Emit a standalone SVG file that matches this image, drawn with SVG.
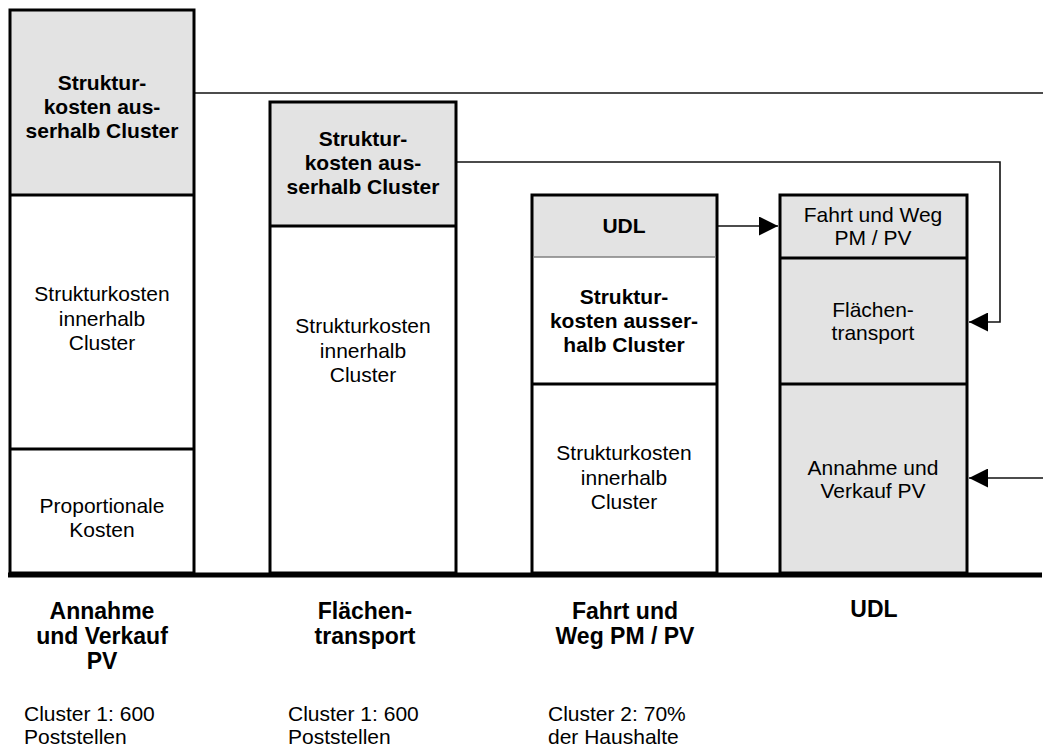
<svg xmlns="http://www.w3.org/2000/svg" width="1043" height="749" viewBox="0 0 1043 749">
  <style>
    .box { stroke: #000; stroke-width: 3; }
    .grey { fill: #e3e3e3; }
    .white { fill: #fff; }
    .div { stroke: #000; stroke-width: 3; }
    .thin { stroke: #808080; stroke-width: 1.5; }
    .conn { fill: none; stroke: #111; stroke-width: 1.6; }
    text { font-family: "Liberation Sans", Arial, sans-serif; fill: #000; }
    .b { font-weight: bold; font-size: 21px; text-anchor: middle; }
    .r { font-size: 21px; text-anchor: middle; }
    .hb { font-weight: bold; font-size: 23px; text-anchor: middle; }
    .hr { font-size: 21px; }
  </style>
  <defs>
    <marker id="arrow" markerWidth="19" markerHeight="19" refX="19" refY="9.5" orient="auto" markerUnits="userSpaceOnUse">
      <path d="M0,0 L19,9.5 L0,19 Z" fill="#000"/>
    </marker>
  </defs>
  <rect width="1043" height="749" fill="#fff"/>

  <!-- connectors -->
  <g id="connectors">
    <path class="conn" d="M194,93 H1043"/>
    <path class="conn" d="M456,162 H1000 V322 H969" marker-end="url(#arrow)"/>
    <path class="conn" d="M717,226 H778" marker-end="url(#arrow)"/>
    <path class="conn" d="M1043,478 H969" marker-end="url(#arrow)"/>
  </g>

  <!-- column 1: Annahme und Verkauf PV -->
  <g id="col-annahme">
    <rect class="grey" x="10" y="10" width="184" height="185"/>
    <rect class="white" x="10" y="195" width="184" height="378"/>
    <rect class="box" x="10" y="10" width="184" height="563" fill="none"/>
    <line class="div" x1="10" y1="195" x2="194" y2="195"/>
    <line class="div" x1="10" y1="449" x2="194" y2="449"/>
    <text class="b" x="102" y="90">Struktur-</text>
    <text class="b" x="102" y="114">kosten aus-</text>
    <text class="b" x="102" y="138">serhalb Cluster</text>
    <text class="r" x="102" y="301">Strukturkosten</text>
    <text class="r" x="102" y="326">innerhalb</text>
    <text class="r" x="102" y="350">Cluster</text>
    <text class="r" x="102" y="513">Proportionale</text>
    <text class="r" x="102" y="537">Kosten</text>
  </g>

  <!-- column 2: Flächentransport -->
  <g id="col-flaechen">
    <rect class="grey" x="270" y="102" width="186" height="124"/>
    <rect class="white" x="270" y="226" width="186" height="347"/>
    <rect class="box" x="270" y="102" width="186" height="471" fill="none"/>
    <line class="div" x1="270" y1="226" x2="456" y2="226"/>
    <text class="b" x="363" y="146">Struktur-</text>
    <text class="b" x="363" y="170">kosten aus-</text>
    <text class="b" x="363" y="194">serhalb Cluster</text>
    <text class="r" x="363" y="333">Strukturkosten</text>
    <text class="r" x="363" y="358">innerhalb</text>
    <text class="r" x="363" y="382">Cluster</text>
  </g>

  <!-- column 3: Fahrt und Weg -->
  <g id="col-fahrt">
    <rect class="grey" x="532" y="195" width="185" height="62"/>
    <rect class="white" x="532" y="257" width="185" height="316"/>
    <rect class="box" x="532" y="195" width="185" height="378" fill="none"/>
    <line class="thin" x1="533" y1="257" x2="716" y2="257"/>
    <line class="div" x1="532" y1="384" x2="717" y2="384"/>
    <text class="b" x="624" y="233">UDL</text>
    <text class="b" x="624" y="304">Struktur-</text>
    <text class="b" x="624" y="328">kosten ausser-</text>
    <text class="b" x="624" y="352">halb Cluster</text>
    <text class="r" x="624" y="460">Strukturkosten</text>
    <text class="r" x="624" y="485">innerhalb</text>
    <text class="r" x="624" y="509">Cluster</text>
  </g>

  <!-- column 4: UDL -->
  <g id="col-udl">
    <rect class="grey box" x="780" y="195" width="187" height="378"/>
    <line class="div" x1="780" y1="258" x2="967" y2="258"/>
    <line class="div" x1="780" y1="384" x2="967" y2="384"/>
    <text class="r" x="873" y="222">Fahrt und Weg</text>
    <text class="r" x="873" y="245">PM / PV</text>
    <text class="r" x="873" y="317">Flächen-</text>
    <text class="r" x="873" y="340">transport</text>
    <text class="r" x="873" y="475">Annahme und</text>
    <text class="r" x="873" y="498">Verkauf PV</text>
  </g>

  <!-- base line -->
  <g id="baseline">
    <line x1="8" y1="575" x2="1042" y2="575" stroke="#000" stroke-width="5"/>
  </g>

  <!-- column captions -->
  <g id="label-annahme">
    <text class="hb" x="102" y="619">Annahme</text>
    <text class="hb" x="102" y="644">und Verkauf</text>
    <text class="hb" x="102" y="669">PV</text>
    <text class="hr" x="24" y="721">Cluster 1: 600</text>
    <text class="hr" x="24" y="744">Poststellen</text>
  </g>
  <g id="label-flaechen">
    <text class="hb" x="365" y="619">Flächen-</text>
    <text class="hb" x="365" y="644">transport</text>
    <text class="hr" x="288" y="721">Cluster 1: 600</text>
    <text class="hr" x="288" y="744">Poststellen</text>
  </g>
  <g id="label-fahrt">
    <text class="hb" x="625" y="619">Fahrt und</text>
    <text class="hb" x="625" y="644">Weg PM / PV</text>
    <text class="hr" x="548" y="721">Cluster 2: 70%</text>
    <text class="hr" x="548" y="744">der Haushalte</text>
  </g>
  <g id="label-udl">
    <text class="hb" x="874" y="617">UDL</text>
  </g>
</svg>
